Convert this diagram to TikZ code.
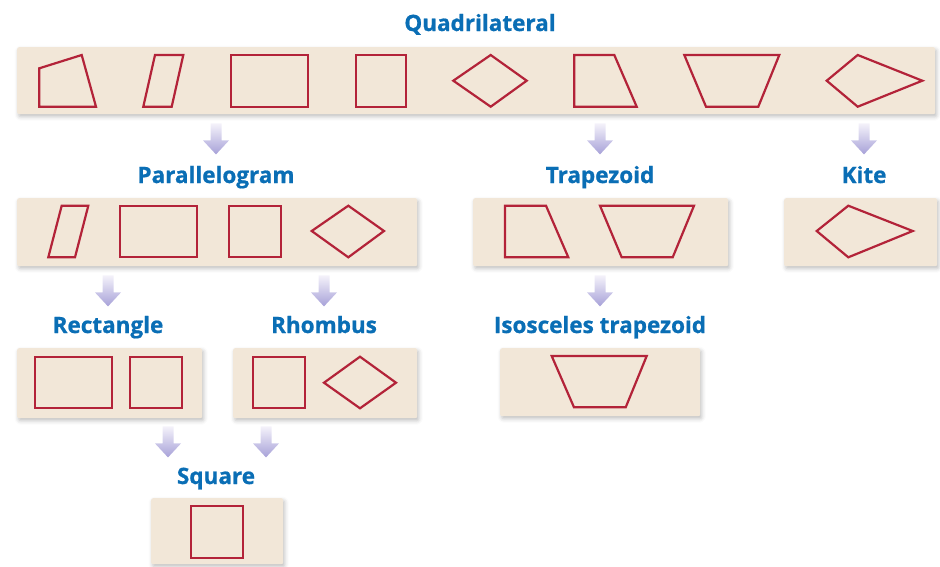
\documentclass[tikz,border=0pt]{standalone}
\usepackage{fontspec}
\setmainfont{Open Sans}
\newfontfamily\hfont{Open Sans}[BoldFeatures={FakeBold=0.8}]
\usetikzlibrary{calc,shadows.blur}
\definecolor{hdblue}{HTML}{0A6EB5}
\definecolor{boxfill}{HTML}{F2E7D8}
\definecolor{shred}{HTML}{B32339}
\definecolor{arrtop}{HTML}{F4F2FA}
\definecolor{arrbot}{HTML}{A7A1D8}
\newcommand\fatarrow[1]{%
  \path[fatshade] let \p1=#1 in
    (\x1-5.5pt,\y1) -- (\x1+5.5pt,\y1) -- (\x1+5.5pt,\y1-17pt) -- (\x1+13pt,\y1-17pt)
    -- (\x1,\y1-31pt) -- (\x1-13pt,\y1-17pt) -- (\x1-5.5pt,\y1-17pt) -- cycle;}
\begin{document}
\begin{tikzpicture}[x=1pt,y=-1pt,
  catbox/.style={fill=boxfill, rounded corners=2pt, inner sep=0pt, anchor=north west,
    blur shadow={shadow xshift=1.5pt, shadow yshift=-2.5pt, shadow blur radius=4pt, shadow opacity=25}},
  heading/.style={text=hdblue, font=\hfont\bfseries\fontsize{22.5}{26}\selectfont, inner sep=0pt, anchor=base},
  quad/.style={draw=shred, line width=2.2pt, line join=miter},
  fatshade/.style={top color=arrtop, bottom color=arrbot, draw=none}]
\useasboundingbox (0,0) rectangle (940,566);

% boxes
\node[catbox, minimum width=918, minimum height=67] (qbox) at (17,47) {};
\node[catbox, minimum width=400, minimum height=68] (parbox) at (17,198) {};
\node[catbox, minimum width=255, minimum height=68] (trapbox) at (473,198) {};
\node[catbox, minimum width=153, minimum height=68] (kitebox) at (784,198) {};
\node[catbox, minimum width=185, minimum height=70] (rectbox) at (17,348) {};
\node[catbox, minimum width=184, minimum height=70] (rhombox) at (233,348) {};
\node[catbox, minimum width=200, minimum height=68] (isobox) at (500,348) {};
\node[catbox, minimum width=132, minimum height=66] (sqbox) at (151,498) {};

% headings
\node[heading] (lquad) at (480,31) {Quadrilateral};
\node[heading] (lpar) at (216,183) {Parallelogram};
\node[heading] (ltrap) at (600,183) {Trapezoid};
\node[heading] (lkite) at (864,183) {Kite};
\node[heading] (lrect) at (108,333) {Rectangle};
\node[heading] (lrhomb) at (324,333) {Rhombus};
\node[heading] (liso) at (600,333) {Isosceles trapezoid};
\node[heading] (lsq) at (216,484) {Square};

% arrows
\fatarrow{($(lpar |- qbox.south)+(0,9)$)}
\fatarrow{($(ltrap |- qbox.south)+(0,9)$)}
\fatarrow{($(lkite |- qbox.south)+(0,9)$)}
\fatarrow{($(lrect |- parbox.south)+(0,9)$)}
\fatarrow{($(lrhomb |- parbox.south)+(0,9)$)}
\fatarrow{($(liso |- trapbox.south)+(0,9)$)}
\fatarrow{($(lsq |- rectbox.south)+(-48,8)$)}
\fatarrow{($(lsq |- rhombox.south)+(50,8)$)}

% top row shapes
\draw[quad] (39.3,68.3) -- (81.7,55) -- (96,106.7) -- (39.3,106.7) -- cycle;
\draw[quad] (143.3,106.7) -- (155,55) -- (183.3,55) -- (171.7,106.7) -- cycle;
\draw[quad] (230.7,55) rectangle (308.3,106.7);
\draw[quad] (355.7,55) rectangle (406,106.7);
\draw[quad] (453.3,80.7) -- (490.7,55) -- (526.7,80.7) -- (490.7,106.7) -- cycle;
\draw[quad] (574.3,55) -- (614.3,55) -- (636.7,106.7) -- (574.3,106.7) -- cycle;
\draw[quad] (684.3,55) -- (779.3,55) -- (758.3,106.7) -- (706,106.7) -- cycle;
\draw[quad] (826.7,80.7) -- (857.7,55) -- (922.3,80.7) -- (857.7,106.7) -- cycle;

% second row
\draw[quad] (48.3,257.3) -- (61.7,205.7) -- (88.3,205.7) -- (75,257.3) -- cycle;
\draw[quad] (120,205.7) rectangle (197.3,257.3);
\draw[quad] (228.7,205.7) rectangle (280.7,257.3);
\draw[quad] (311.7,231) -- (348.3,205.7) -- (384,231) -- (348.3,257.3) -- cycle;
\draw[quad] (505,205.7) -- (546,205.7) -- (568.3,257.3) -- (505,257.3) -- cycle;
\draw[quad] (600,205.7) -- (694,205.7) -- (672.7,257.3) -- (621.7,257.3) -- cycle;
\draw[quad] (816.7,231) -- (848.3,205.7) -- (912.7,231) -- (848.3,257.3) -- cycle;

% third row
\draw[quad] (35,356.7) rectangle (112.3,408.3);
\draw[quad] (130,356.7) rectangle (182.3,408.3);
\draw[quad] (252.7,356.7) rectangle (305,408.3);
\draw[quad] (324,382.7) -- (360,356.7) -- (396,382.7) -- (360,408.3) -- cycle;
\draw[quad] (551.7,356) -- (646.7,356) -- (625.7,407.3) -- (574,407.3) -- cycle;

% bottom
\draw[quad] (190.7,506) rectangle (242.7,558.3);
\end{tikzpicture}
\end{document}
